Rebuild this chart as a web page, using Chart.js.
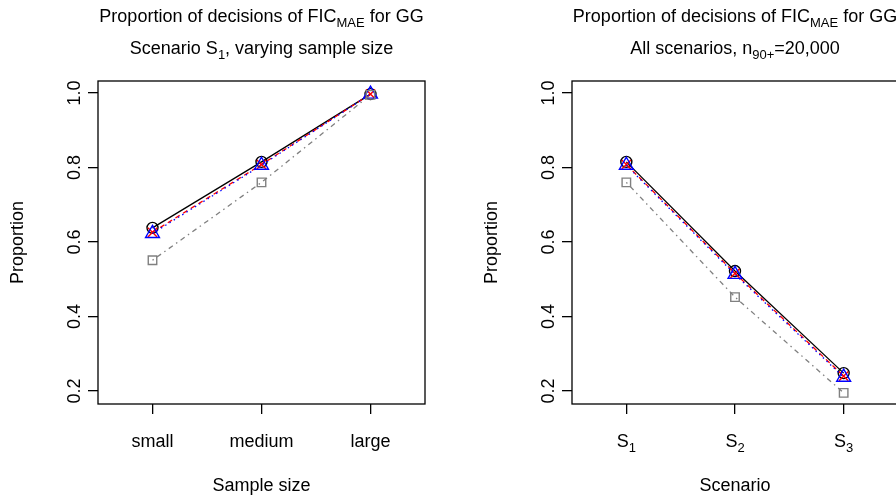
<!DOCTYPE html>
<html>
<head>
<meta charset="utf-8">
<title>Proportion of decisions</title>
<script src="https://cdn.jsdelivr.net/npm/chart.js@4.4.1/dist/chart.umd.min.js"></script>
<style>
  html, body { margin: 0; padding: 0; background: #fff; overflow: hidden; }
  #wrap { position: relative; width: 896px; height: 499px; overflow: hidden; }
  #left { position: absolute; left: 0; top: 0; }
  #right { position: absolute; left: 448px; top: 0; }
</style>
</head>
<body>
<div id="wrap">
  <canvas id="left" width="448" height="499"></canvas>
  <canvas id="right" width="480" height="499"></canvas>
</div>
<script>
// categories and tick labels ("_{...}" marks a subscript)
const sampleSizes = ['small', 'medium', 'large'];
const scenarios = ['S_{1}', 'S_{2}', 'S_{3}'];
const yTicks = [0.2, 0.4, 0.6, 0.8, 1.0];

// scenario S1, by sample size
const sizeCircle   = [0.638, 0.815, 0.997];
const sizeCross    = [0.626, 0.808, 0.997];
const sizeTriangle = [0.623, 0.806, 0.997];
const sizeSquare   = [0.551, 0.760, 0.995];

// n = 20,000, by scenario
const scenCircle   = [0.815, 0.522, 0.248];
const scenCross    = [0.808, 0.516, 0.240];
const scenTriangle = [0.806, 0.513, 0.237];
const scenSquare   = [0.760, 0.452, 0.195];

const FONT = '"Liberation Sans", Arial, Helvetica, sans-serif';

// split "abc_{xy}def" into plain / subscript pieces
function parts(str) {
  const out = [];
  const re = /_\{([^}]*)\}/g;
  let last = 0, m;
  while ((m = re.exec(str))) {
    if (m.index > last) out.push({ t: str.slice(last, m.index), sub: false });
    out.push({ t: m[1], sub: true });
    last = re.lastIndex;
  }
  if (last < str.length) out.push({ t: str.slice(last), sub: false });
  return out;
}

// centred text with subscripts, y is the baseline
function drawRich(ctx, str, x, y, size) {
  const segs = parts(str);
  const subSize = Math.round(size * 0.7);
  let total = 0;
  segs.forEach(s => {
    ctx.font = (s.sub ? subSize : size) + 'px ' + FONT;
    s.w = ctx.measureText(s.t).width;
    total += s.w;
  });
  let cx = x - total / 2;
  ctx.textAlign = 'left';
  segs.forEach(s => {
    ctx.font = (s.sub ? subSize : size) + 'px ' + FONT;
    ctx.fillText(s.t, cx, s.sub ? y + size * 0.25 : y);
    cx += s.w;
  });
}

// box, titles and axis annotation in the style of base R graphics
const rPanel = {
  id: 'rPanel',
  afterDraw(chart, args, opts) {
    const { ctx, chartArea: a, scales } = chart;
    ctx.save();
    ctx.strokeStyle = '#000';
    ctx.lineWidth = 1.3;
    ctx.strokeRect(a.left, a.top, a.right - a.left, a.bottom - a.top);

    ctx.fillStyle = '#000';
    ctx.textBaseline = 'alphabetic';
    const mid = (a.left + a.right) / 2;
    drawRich(ctx, opts.title, mid, 22, 18);
    drawRich(ctx, opts.subtitle, mid, 54, 18);

    scales.x.ticks.forEach((t, i) => {
      drawRich(ctx, scales.x.getLabelForValue(t.value), scales.x.getPixelForTick(i), a.bottom + 43, 18);
    });
    drawRich(ctx, opts.xTitle, mid, a.bottom + 87, 18);

    // y labels run parallel to the axis
    scales.y.ticks.forEach(t => {
      ctx.save();
      ctx.translate(a.left - 18, scales.y.getPixelForValue(t.value));
      ctx.rotate(-Math.PI / 2);
      drawRich(ctx, t.value.toFixed(1), 0, 0, 18);
      ctx.restore();
    });
    ctx.translate(a.left - 75.5, (a.top + a.bottom) / 2);
    ctx.rotate(-Math.PI / 2);
    drawRich(ctx, opts.yTitle, 0, 0, 18);
    ctx.restore();
  }
};

function series(data, color, dash, style, radius, order) {
  return {
    data: data,
    borderColor: color,
    borderWidth: 1.3,
    borderDash: dash,
    pointStyle: style,
    pointRadius: radius,
    pointBorderColor: color,
    pointBackgroundColor: 'rgba(0,0,0,0)',
    pointBorderWidth: 1.4,
    tension: 0,
    order: order
  };
}

function makePanel(id, labels, circle, cross, triangle, square, text, yWidth, padRight) {
  const tickGrid = {
    display: true,
    drawOnChartArea: false,
    drawTicks: true,
    tickLength: 10,
    color: '#000',
    lineWidth: 1.3
  };
  return new Chart(document.getElementById(id), {
    type: 'line',
    data: {
      labels: labels,
      datasets: [
        series(circle, '#000000', [], 'circle', 5.5, 4),
        series(cross, '#ff0000', [5, 4], 'crossRot', 6.5, 3),
        series(triangle, '#0000ff', [1.5, 3.5], 'triangle', 8, 2),
        series(square, '#808080', [1.5, 4, 5, 4], 'rect', 6, 1)
      ]
    },
    options: {
      responsive: false,
      animation: false,
      layout: { padding: { top: 81, right: padRight, left: 0, bottom: 0 } },
      plugins: {
        legend: { display: false },
        tooltip: { enabled: false },
        rPanel: text
      },
      scales: {
        x: {
          type: 'category',
          offset: true,
          ticks: { display: false },
          grid: tickGrid,
          border: { display: false },
          afterFit: s => { s.height = 95; }
        },
        y: {
          min: 0.1651,
          max: 1.0322,
          ticks: { display: false },
          grid: tickGrid,
          border: { display: false },
          afterBuildTicks: s => { s.ticks = yTicks.map(v => ({ value: v })); },
          afterFit: s => { s.width = yWidth; }
        }
      }
    },
    plugins: [rPanel]
  });
}

makePanel('left', sampleSizes, sizeCircle, sizeCross, sizeTriangle, sizeSquare, {
  title: 'Proportion of decisions of FIC_{MAE} for GG',
  subtitle: 'Scenario S_{1}, varying sample size',
  xTitle: 'Sample size',
  yTitle: 'Proportion'
}, 98, 23);

makePanel('right', scenarios, scenCircle, scenCross, scenTriangle, scenSquare, {
  title: 'Proportion of decisions of FIC_{MAE} for GG',
  subtitle: 'All scenarios, n_{90+}=20,000',
  xTitle: 'Scenario',
  yTitle: 'Proportion'
}, 124, 30);
</script>
</body>
</html>
